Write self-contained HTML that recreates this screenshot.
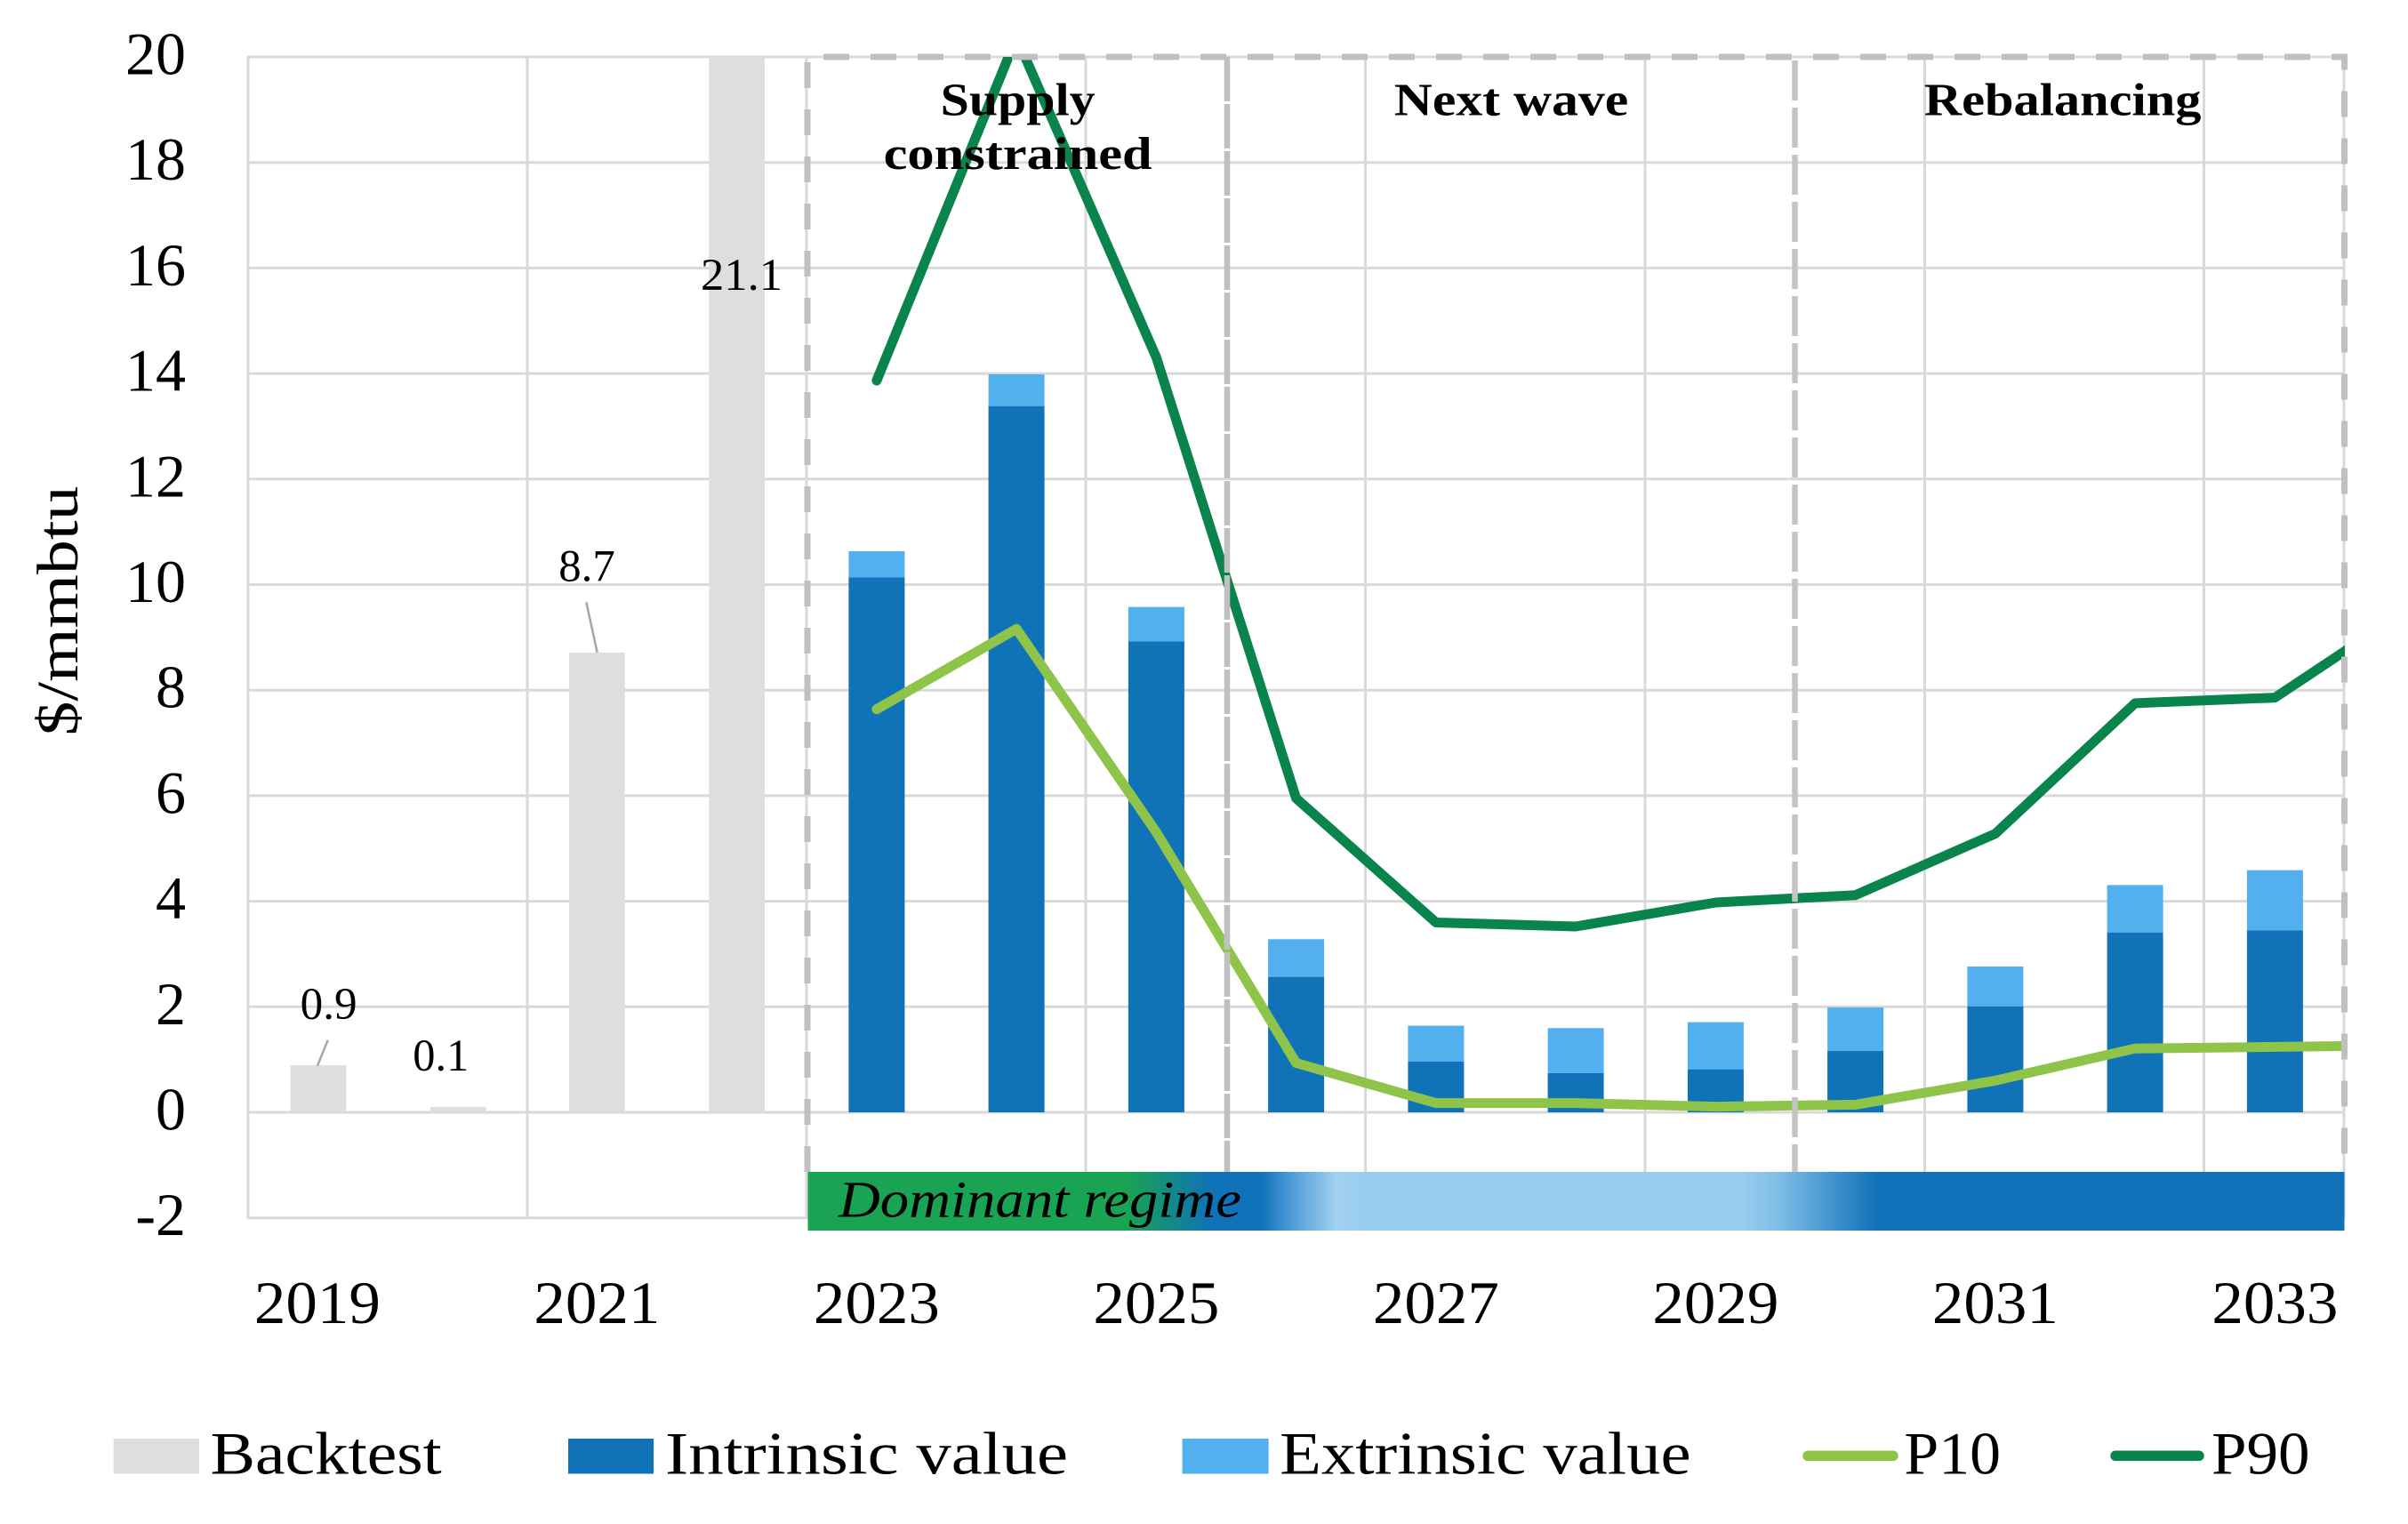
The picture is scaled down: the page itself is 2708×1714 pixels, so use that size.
<!DOCTYPE html>
<html>
<head>
<meta charset="utf-8">
<style>
  html, body { margin: 0; padding: 0; background: #ffffff; }
  svg { display: block; }
  text { font-family: "Liberation Serif", "DejaVu Serif", serif; fill: #000; }
</style>
</head>
<body>
<svg width="2708" height="1714" viewBox="0 0 2708 1714" xmlns="http://www.w3.org/2000/svg">
  <defs>
    <clipPath id="plotclip">
      <rect x="278" y="64" width="2359" height="1306"/>
    </clipPath>
    <linearGradient id="regime" gradientUnits="userSpaceOnUse" x1="908" y1="0" x2="2636" y2="0">
      <stop offset="0" stop-color="#19A352"/>
      <stop offset="0.2083" stop-color="#19A352"/>
      <stop offset="0.2627" stop-color="#1072B8"/>
      <stop offset="0.2957" stop-color="#1072B8"/>
      <stop offset="0.3125" stop-color="#4797D5"/>
      <stop offset="0.3449" stop-color="#A2D2F0"/>
      <stop offset="0.3600" stop-color="#98CDEE"/>
      <stop offset="0.6088" stop-color="#98CDEE"/>
      <stop offset="0.6319" stop-color="#80BDE7"/>
      <stop offset="0.6956" stop-color="#1072B8"/>
      <stop offset="1" stop-color="#1072B8"/>
    </linearGradient>
  </defs>

  <rect x="0" y="0" width="2708" height="1714" fill="#ffffff"/>

  <!-- horizontal gridlines -->
  <g stroke="#D9D9D9" stroke-width="3">
    <line x1="278" y1="64" x2="2637" y2="64"/>
    <line x1="278" y1="182.7" x2="2637" y2="182.7"/>
    <line x1="278" y1="301.4" x2="2637" y2="301.4"/>
    <line x1="278" y1="420.1" x2="2637" y2="420.1"/>
    <line x1="278" y1="538.8" x2="2637" y2="538.8"/>
    <line x1="278" y1="657.5" x2="2637" y2="657.5"/>
    <line x1="278" y1="776.2" x2="2637" y2="776.2"/>
    <line x1="278" y1="894.9" x2="2637" y2="894.9"/>
    <line x1="278" y1="1013.6" x2="2637" y2="1013.6"/>
    <line x1="278" y1="1132.3" x2="2637" y2="1132.3"/>
    <line x1="278" y1="1251" x2="2637" y2="1251"/>
    <line x1="278" y1="1369.7" x2="2637" y2="1369.7"/>
  </g>
  <!-- vertical gridlines -->
  <g stroke="#D9D9D9" stroke-width="3">
    <line x1="279" y1="64" x2="279" y2="1371"/>
    <line x1="593" y1="64" x2="593" y2="1371"/>
    <line x1="907" y1="64" x2="907" y2="1371"/>
    <line x1="1221" y1="64" x2="1221" y2="1371"/>
    <line x1="1535.5" y1="64" x2="1535.5" y2="1371"/>
    <line x1="1850" y1="64" x2="1850" y2="1371"/>
    <line x1="2164.5" y1="64" x2="2164.5" y2="1371"/>
    <line x1="2478.5" y1="64" x2="2478.5" y2="1371"/>
    <line x1="2636" y1="64" x2="2636" y2="1371"/>
  </g>

  <!-- backtest bars -->
  <g fill="#DEDEDE">
    <rect x="326.8" y="1198" width="62.5" height="53"/>
    <rect x="484" y="1245" width="62.5" height="6"/>
    <rect x="640" y="734" width="62.7" height="517"/>
    <rect x="797.3" y="64" width="62.7" height="1187"/>
  </g>

  <!-- extrinsic (light) -->
  <g fill="#53B0EE">
    <rect x="954.4" y="620" width="63" height="29.5"/>
    <rect x="1111.6" y="421" width="63" height="35.7"/>
    <rect x="1268.9" y="682.6" width="63" height="38.8"/>
    <rect x="1426.1" y="1056.3" width="63" height="42.4"/>
    <rect x="1583.4" y="1153.6" width="63" height="40.2"/>
    <rect x="1740.6" y="1156.3" width="63" height="50.7"/>
    <rect x="1897.9" y="1149.6" width="63" height="53.1"/>
    <rect x="2055.1" y="1133" width="63" height="48.9"/>
    <rect x="2212.4" y="1087" width="63" height="44.8"/>
    <rect x="2369.6" y="995.4" width="63" height="53.3"/>
    <rect x="2526.9" y="978.7" width="63" height="67.7"/>
  </g>
  <!-- intrinsic (dark) -->
  <g fill="#1073B7">
    <rect x="954.4" y="649.5" width="63" height="601.5"/>
    <rect x="1111.6" y="456.7" width="63" height="794.3"/>
    <rect x="1268.9" y="721.4" width="63" height="529.6"/>
    <rect x="1426.1" y="1098.7" width="63" height="152.3"/>
    <rect x="1583.4" y="1193.8" width="63" height="57.2"/>
    <rect x="1740.6" y="1207" width="63" height="44"/>
    <rect x="1897.9" y="1202.7" width="63" height="48.3"/>
    <rect x="2055.1" y="1181.9" width="63" height="69.1"/>
    <rect x="2212.4" y="1131.8" width="63" height="119.2"/>
    <rect x="2369.6" y="1048.7" width="63" height="202.3"/>
    <rect x="2526.9" y="1046.4" width="63" height="204.6"/>
  </g>

  <!-- data labels for backtest -->
  <g stroke="#A6A6A6" stroke-width="2.5">
    <line x1="368.75" y1="1169.7" x2="357" y2="1198.7"/>
    <line x1="659.3" y1="677.3" x2="671.7" y2="734"/>
  </g>
  <g font-size="51" text-anchor="middle">
    <text x="369.6" y="1146" textLength="64" lengthAdjust="spacingAndGlyphs">0.9</text>
    <text x="495.8" y="1203.8" textLength="63" lengthAdjust="spacingAndGlyphs">0.1</text>
    <text x="660" y="653.3" textLength="63.4" lengthAdjust="spacingAndGlyphs">8.7</text>
    <text x="834" y="326" textLength="92" lengthAdjust="spacingAndGlyphs">21.1</text>
  </g>

  <!-- lines -->
  <g clip-path="url(#plotclip)" fill="none" stroke-width="11" stroke-linejoin="round" stroke-linecap="round">
    <polyline stroke="#8FC44A" points="985.9,797.7 1143.1,707.3 1300.4,936 1457.6,1195.5 1614.9,1240.6 1772.1,1240.6 1929.4,1244.6 2086.6,1242.4 2243.9,1215.3 2401.1,1179.2 2558.4,1177.4 2715.6,1175.5"/>
    <polyline stroke="#08844C" points="985.9,428 1143.1,42 1300.4,402 1457.6,897.8 1614.9,1037.5 1772.1,1042 1929.4,1015 2086.6,1006.7 2243.9,937.6 2401.1,790.9 2558.4,784.6 2715.6,680"/>
  </g>

  <!-- dashed regime boundaries -->
  <path d="M908,1318 V64 H2636.5 V1318" fill="none" stroke="#C0C0C0" stroke-width="7" stroke-dasharray="29 24"/>
  <line x1="1380" y1="64" x2="1380" y2="1318" stroke="#C0C0C0" stroke-width="6.5" stroke-dasharray="50 3"/>
  <line x1="2018.5" y1="68" x2="2018.5" y2="1318" stroke="#C4C4C4" stroke-width="6.5" stroke-dasharray="45 8"/>

  <!-- regime bar -->
  <rect x="908.5" y="1318" width="1728" height="66" fill="url(#regime)"/>
  <text x="943" y="1368.3" font-size="58" font-style="italic" textLength="453" lengthAdjust="spacingAndGlyphs">Dominant regime</text>

  <!-- region titles -->
  <g font-size="52" font-weight="bold" text-anchor="middle">
    <text x="1144.6" y="129.5" textLength="174" lengthAdjust="spacingAndGlyphs">Supply</text>
    <text x="1144.6" y="190" textLength="302" lengthAdjust="spacingAndGlyphs">constrained</text>
    <text x="1699.5" y="129.5" textLength="263.5" lengthAdjust="spacingAndGlyphs">Next wave</text>
    <text x="2319.7" y="129.5" textLength="311.5" lengthAdjust="spacingAndGlyphs">Rebalancing</text>
  </g>

  <!-- y tick labels -->
  <g font-size="68" text-anchor="end">
    <text x="209" y="83.5">20</text>
    <text x="209" y="202.2">18</text>
    <text x="209" y="320.9">16</text>
    <text x="209" y="439.6">14</text>
    <text x="209" y="558.3">12</text>
    <text x="209" y="677">10</text>
    <text x="209" y="795.7">8</text>
    <text x="209" y="914.4">6</text>
    <text x="209" y="1033.1">4</text>
    <text x="209" y="1151.8">2</text>
    <text x="209" y="1270.5">0</text>
    <text x="209" y="1389.2">-2</text>
  </g>

  <!-- x tick labels -->
  <g font-size="68" text-anchor="middle">
    <text x="356.9" y="1488" textLength="142" lengthAdjust="spacingAndGlyphs">2019</text>
    <text x="671.4" y="1488" textLength="142" lengthAdjust="spacingAndGlyphs">2021</text>
    <text x="985.9" y="1488" textLength="142" lengthAdjust="spacingAndGlyphs">2023</text>
    <text x="1300.4" y="1488" textLength="142" lengthAdjust="spacingAndGlyphs">2025</text>
    <text x="1614.9" y="1488" textLength="142" lengthAdjust="spacingAndGlyphs">2027</text>
    <text x="1929.4" y="1488" textLength="142" lengthAdjust="spacingAndGlyphs">2029</text>
    <text x="2243.9" y="1488" textLength="142" lengthAdjust="spacingAndGlyphs">2031</text>
    <text x="2558.4" y="1488" textLength="142" lengthAdjust="spacingAndGlyphs">2033</text>
  </g>

  <!-- y axis title -->
  <text transform="translate(87,687) rotate(-90)" x="0" y="0" font-size="66" text-anchor="middle" textLength="281" lengthAdjust="spacingAndGlyphs">$/mmbtu</text>

  <!-- legend -->
  <rect x="127.7" y="1618" width="96.3" height="39.5" fill="#DEDEDE"/>
  <rect x="639" y="1618" width="96" height="39.5" fill="#1073B7"/>
  <rect x="1329.6" y="1618" width="97" height="39.5" fill="#53B0EE"/>
  <line x1="2033" y1="1637.3" x2="2129" y2="1637.3" stroke="#8FC44A" stroke-width="11.5" stroke-linecap="round"/>
  <line x1="2379" y1="1637.3" x2="2473" y2="1637.3" stroke="#08844C" stroke-width="11.5" stroke-linecap="round"/>
  <g font-size="68">
    <text x="236.6" y="1657.5" textLength="260" lengthAdjust="spacingAndGlyphs">Backtest</text>
    <text x="748" y="1657.5" textLength="453" lengthAdjust="spacingAndGlyphs">Intrinsic value</text>
    <text x="1439" y="1657.5" textLength="462.6" lengthAdjust="spacingAndGlyphs">Extrinsic value</text>
    <text x="2141.4" y="1657.5" textLength="108.6" lengthAdjust="spacingAndGlyphs">P10</text>
    <text x="2487" y="1657.5" textLength="110.6" lengthAdjust="spacingAndGlyphs">P90</text>
  </g>
</svg>
</body>
</html>
